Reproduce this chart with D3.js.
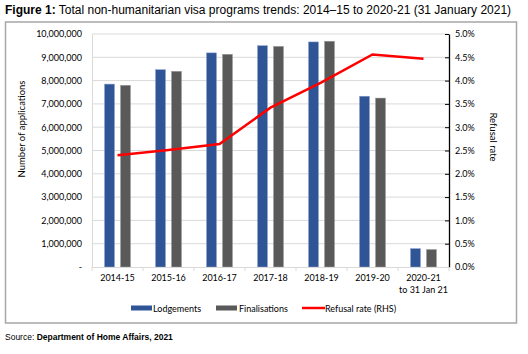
<!DOCTYPE html>
<html>
<head>
<meta charset="utf-8">
<script src="https://cdn.jsdelivr.net/npm/d3@7"></script>
<style>
  body { margin: 0; background: #fff; }
  svg text { font-family: Lato, "Liberation Sans", sans-serif; }
</style>
</head>
<body>
<div id="chart"></div>
<script>
const categories = ["2014-15", "2015-16", "2016-17", "2017-18", "2018-19", "2019-20", "2020-21|to 31 Jan 21"]
const lodgements = [7850000, 8470000, 9190000, 9500000, 9660000, 7330000, 790000]
const finalisations = [7800000, 8400000, 9130000, 9470000, 9690000, 7250000, 750000]
const refusalRate = [0.0240, 0.0251, 0.0264, 0.0342, 0.0396, 0.0456, 0.0447]
const leftTicks = [0, 1e6, 2e6, 3e6, 4e6, 5e6, 6e6, 7e6, 8e6, 9e6, 10e6]
const rightTicks = [0, 0.005, 0.01, 0.015, 0.02, 0.025, 0.03, 0.035, 0.04, 0.045, 0.05]

const width = 528, height = 354
const plot = { left: 92, right: 449, top: 34, bottom: 267 }

const svg = d3.select("#chart").append("svg")
  .attr("width", width)
  .attr("height", height)

// title
const title = svg.append("text").attr("x", 5).attr("y", 14)
  .style("font-family", "Arial, 'Liberation Sans', sans-serif").attr("font-size", 12)
title.append("tspan").attr("font-weight", "bold").text("Figure 1:")
title.append("tspan").text(" Total non-humanitarian visa programs trends: 2014\u201315 to 2020-21 (31 January 2021)")

// frame
svg.append("rect")
  .attr("x", 5.5).attr("y", 22).attr("width", 511).attr("height", 301)
  .attr("fill", "none").attr("stroke", "#a6a6a6").attr("stroke-width", 1.5)

const x = d3.scaleBand().domain(categories).range([plot.left, plot.right])
const x1 = d3.scaleBand().domain(["L", "F"]).range([-13, 13]).paddingInner(0.375)
const y = d3.scaleLinear().domain([0, 10e6]).range([plot.bottom, plot.top])
const y2 = d3.scaleLinear().domain([0, 0.05]).range([plot.bottom, plot.top])

// gridlines
svg.append("g").selectAll("line")
  .data(leftTicks.slice(1))
  .join("line")
  .attr("x1", plot.left).attr("x2", plot.right)
  .attr("y1", d => y(d)).attr("y2", d => y(d))
  .attr("stroke", "#d9d9d9").attr("stroke-width", 1)

// left axis
const axisL = svg.append("g").attr("transform", `translate(${plot.left},0)`)
  .call(d3.axisLeft(y).tickValues(leftTicks).tickSize(0).tickPadding(10)
    .tickFormat(d => d === 0 ? "-" : d3.format(",")(d)))
axisL.select(".domain").attr("stroke", "#d9d9d9")
axisL.selectAll("text").attr("font-size", 9).attr("fill", "#000")

// right axis
const axisR = svg.append("g").attr("transform", `translate(${plot.right},0)`)
  .call(d3.axisRight(y2).tickValues(rightTicks).tickSizeInner(-4).tickSizeOuter(0).tickPadding(6)
    .tickFormat(d3.format(".1%")))
axisR.select(".domain").attr("stroke", "#000").attr("stroke-width", 1.3)
axisR.selectAll(".tick line").attr("stroke", "#000")
axisR.selectAll("text").attr("font-size", 9).attr("fill", "#000")

// bars
const bars = svg.append("g")
categories.forEach((c, i) => {
  const cx = x(c) + x.bandwidth() / 2
  bars.append("rect")
    .attr("x", cx + x1("L")).attr("width", x1.bandwidth())
    .attr("y", y(lodgements[i])).attr("height", y(0) - y(lodgements[i]))
    .attr("fill", "#2f5597").attr("stroke", "#8fa4cc").attr("stroke-width", 0.5)
  bars.append("rect")
    .attr("x", cx + x1("F")).attr("width", x1.bandwidth())
    .attr("y", y(finalisations[i])).attr("height", y(0) - y(finalisations[i]))
    .attr("fill", "#595959").attr("stroke", "#a0a0a0").attr("stroke-width", 0.5)
})

// bottom axis
const axisB = svg.append("g").attr("transform", `translate(0,${plot.bottom})`)
  .call(d3.axisBottom(x).tickSize(0).tickFormat(""))
axisB.select(".domain").attr("stroke", "#d9d9d9")
axisB.selectAll(".sep")
  .data(categories.map(c => x(c)).concat([plot.right]))
  .join("line").attr("class", "sep")
  .attr("x1", d => d).attr("x2", d => d).attr("y1", 0).attr("y2", 4)
  .attr("stroke", "#d9d9d9")
axisB.selectAll(".tick").each(function(d) {
  const lines = d.split("|")
  const t = d3.select(this).append("text")
    .attr("text-anchor", "middle").attr("font-size", 9).attr("fill", "#000")
  lines.forEach((l, k) => t.append("tspan").attr("x", 0).attr("y", 14 + k * 12).text(l))
})

// refusal line
const line = d3.line()
  .x((d, i) => x(categories[i]) + x.bandwidth() / 2)
  .y(d => y2(d))
svg.append("path").datum(refusalRate)
  .attr("d", line)
  .attr("fill", "none").attr("stroke", "#ff0000").attr("stroke-width", 2.5)

// axis titles
svg.append("text")
  .attr("transform", "translate(25,129) rotate(-90)")
  .attr("text-anchor", "middle").attr("font-size", 9.5).text("Number of applications")
svg.append("text")
  .attr("transform", "translate(490,137) rotate(90)")
  .attr("text-anchor", "middle").attr("font-size", 9.5).text("Refusal rate")

// legend
const legend = svg.append("g")
legend.append("rect").attr("x", 131).attr("y", 305.5).attr("width", 21).attr("height", 5).attr("fill", "#2f5597")
legend.append("text").attr("x", 153).attr("y", 311.5).attr("font-size", 9).text("Lodgements")
legend.append("rect").attr("x", 216).attr("y", 305.5).attr("width", 21).attr("height", 5).attr("fill", "#595959")
legend.append("text").attr("x", 239).attr("y", 311.5).attr("font-size", 9).text("Finalisations")
legend.append("line").attr("x1", 302).attr("x2", 325).attr("y1", 308).attr("y2", 308)
  .attr("stroke", "#ff0000").attr("stroke-width", 2.5)
legend.append("text").attr("x", 325).attr("y", 311.5).attr("font-size", 9).text("Refusal rate (RHS)")

// source
const src = svg.append("text").attr("x", 5).attr("y", 340)
  .style("font-family", "Arial, 'Liberation Sans', sans-serif").attr("font-size", 8.5)
src.append("tspan").text("Source: ")
src.append("tspan").attr("font-weight", "bold").text("Department of Home Affairs, 2021")
</script>
</body>
</html>
